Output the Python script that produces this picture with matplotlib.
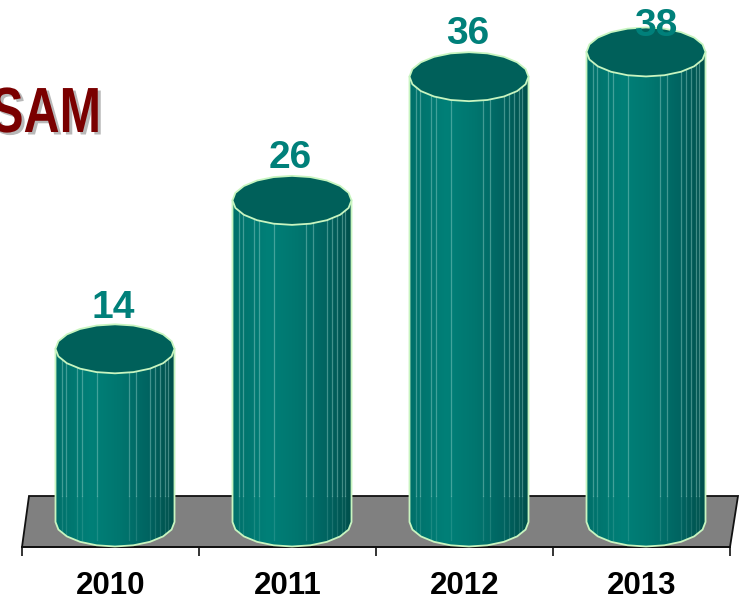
import numpy as np
import matplotlib
matplotlib.use("Agg")
import matplotlib.pyplot as plt
from matplotlib.colors import LinearSegmentedColormap, to_rgb
from matplotlib.patches import Polygon
from matplotlib.transforms import Affine2D
import matplotlib.patheffects as pe

years = ["2010", "2011", "2012", "2013"]
values = [14, 26, 36, 38]

plt.rcParams["font.family"] = ["Liberation Sans", "DejaVu Sans"]


# title letters are condensed in the reference, squeeze them sideways when drawn
class Squeeze(pe.AbstractPathEffect):
    def __init__(self, sx, x0, color, dx=0, dy=0):
        super().__init__()
        self.sx, self.x0, self.color, self.dx, self.dy = sx, x0, to_rgb(color), dx, dy

    def draw_path(self, renderer, gc, tpath, affine, rgbFace=None):
        a = affine + Affine2D().translate(-self.x0, 0).scale(self.sx, 1).translate(self.x0 + self.dx, self.dy)
        gc0 = renderer.new_gc()
        gc0.copy_properties(gc)
        gc0.set_linewidth(0)
        renderer.draw_path(gc0, tpath, a, self.color)
        gc0.restore()


fig = plt.figure(figsize=(7.4, 6), dpi=100)
ax = fig.add_axes([22 / 740, (600 - 547) / 600, 708 / 740, 547 / 600])

# pixel scale of the chart
px_x = 177.0
px_y = 12.37
ax.set_xlim(-0.5, 3.5)
ax.set_ylim(-25 / px_y, 522 / px_y)

teal = LinearSegmentedColormap.from_list(
    "teal", [(0, "#00706a"), (0.3, "#008078"), (0.55, "#00766f"), (0.8, "#006360"), (1, "#004f4b")]
)
stripes = [0.054, 0.09, 0.184, 0.226, 0.345, 0.62, 0.68, 0.79, 0.836, 0.88, 0.92, 0.949]

# grey floor
floor = Polygon(
    [(-0.5, -25 / px_y), (3.5, -25 / px_y), (3.5 + 8 / px_x, 26 / px_y), (-0.5 + 7 / px_x, 26 / px_y)],
    closed=True, facecolor="#808080", edgecolor="#111111", linewidth=1.3, clip_on=False, zorder=1,
)
ax.add_patch(floor)

rx = 59.5 / px_x
ry = 24.5 / px_y
off = 4.5 / px_x
t = np.linspace(0, 2 * np.pi, 21)

for i, v in enumerate(values):
    cx = i + off
    # body outline: down the left, round the front, up the right
    front = np.linspace(np.pi, 2 * np.pi, 11)
    xs = np.r_[cx - rx, cx + rx * np.cos(front), cx + rx]
    ys = np.r_[v, ry * np.sin(front), v]
    body = Polygon(np.c_[xs, ys], closed=True, facecolor="none", edgecolor="#c8f5c0",
                   linewidth=1.3, zorder=4, clip_on=False)
    ax.add_patch(body)
    im = ax.imshow(np.linspace(0, 1, 120).reshape(1, -1), cmap=teal, aspect="auto",
                   extent=[cx - rx, cx + rx, -ry, v], zorder=2)
    im.set_clip_path(body)
    for s in stripes:
        sx = cx - rx + s * 2 * rx
        low = ax.plot([sx, sx], [-ry * 0.75, 26 / px_y], color="#9fd8d0", alpha=0.18, lw=0.9, zorder=3)[0]
        high = ax.plot([sx, sx], [26 / px_y, v], color="#9fd8d0", alpha=0.42, lw=0.9, zorder=3)[0]
        low.set_clip_path(body)
        high.set_clip_path(body)
    ax.add_patch(Polygon(np.c_[cx + rx * np.cos(t), v + ry * np.sin(t)], closed=True,
                         facecolor="#00605a", edgecolor="#c8f5c0", linewidth=1.3,
                         zorder=5, clip_on=False))

# value labels, the last one sits off centre
label_shift = [3, 3, 3, 14]
label_rise = [31, 32, 33, 16]
for i, v in enumerate(values):
    ax.annotate(str(v), xy=(i, v), xytext=(label_shift[i] * 0.72, label_rise[i] * 0.72),
                textcoords="offset points", ha="center", va="baseline",
                fontsize=28, fontweight="bold", color="#00807a", zorder=6, annotation_clip=False)

# title, cut by the left edge of the figure as in the reference
fig.text(101 / 740, 1 - 132 / 600, "SAM", fontsize=46, fontweight="bold", color="#7a0000",
         ha="right", va="baseline",
         path_effects=[Squeeze(0.78, 101, "#b8b8b8", dx=3, dy=-2.5), Squeeze(0.78, 101, "#7a0000")])

# axis
for name in ["top", "left", "right"]:
    ax.spines[name].set_visible(False)
ax.spines["bottom"].set_color("#111111")
ax.spines["bottom"].set_linewidth(1.3)
ax.patch.set_visible(False)
ax.set_yticks([])
ax.set_xticks(np.arange(-0.5, 4, 1))
ax.set_xticklabels([])
ax.tick_params(axis="x", which="major", length=6.5, width=1.2, color="#111111")
ax.set_xticks(np.arange(4), minor=True)
ax.set_xticklabels(years, minor=True, fontsize=22.5, fontweight="bold", color="black")
ax.tick_params(axis="x", which="minor", length=0, pad=17)

fig.savefig("out.png", dpi=100)
